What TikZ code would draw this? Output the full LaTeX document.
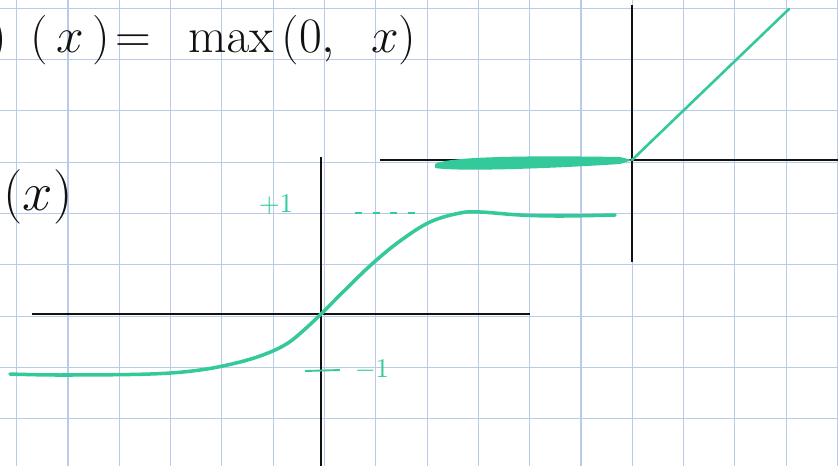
\documentclass[tikz,border=0pt]{standalone}
\usepackage{amsmath,amssymb}
\usepackage{tikz}
\usetikzlibrary{arrows.meta,positioning,calc}
\usepackage{xcolor}
\definecolor{gridblue}{HTML}{BACBEA}
\definecolor{penblack}{HTML}{111111}
\definecolor{pengreen}{HTML}{33C99A}

\begin{document}
\begin{tikzpicture}[x=0.03cm, y=-0.03cm,
    axis/.style={penblack, line width=2pt},
    curve/.style={pengreen, line width=3pt, line cap=round, line join=round},
    hand/.style={font=\Huge, scale=1.7, transform shape, text=penblack, inner sep=0pt},
    note/.style={font=\normalsize, scale=2.3, transform shape, text=pengreen, inner sep=0pt}]
  \useasboundingbox (0,0) rectangle (838,466);
  \clip (0,0) rectangle (838,466);
  \fill[white] (0,0) rectangle (838,466);

  % grid paper
  \foreach \i in {0,...,16}
    \draw[gridblue, line width=0.9pt] ({16.7+51.3*\i},0) -- ({16.7+51.3*\i},466);
  \foreach \j in {0,...,9}
    \draw[gridblue, line width=0.9pt] (0,{8.3+51.3*\j}) -- (838,{8.3+51.3*\j});

  % formula
  \node[hand, anchor=east] (cut) at (7,40) {$)$};
  \node[hand, anchor=west] (lhs) at (30,40) {$(\,x\,)\!=$};
  \node[hand, anchor=west] (rhs) at (188,40) {$\max\,(0,\;\;x)$};
  \node[hand, scale=1.1] (tanhx) at (38,197) {$(x)$};

  % ReLU axes
  \coordinate (rt) at (632,5);
  \coordinate (rb) at (632,262);
  \coordinate (rl) at (380,160);
  \coordinate (rr) at (838,160);
  \draw[axis] (rt) -- (rb);
  \draw[axis] (rl) -- (rr);

  % ReLU
  \fill[pengreen] (435,164) .. controls (450,155) and (560,156) .. (620,157)
    -- (632,160) -- (620,164) .. controls (560,168) and (460,172) .. (435,168) -- cycle;
  \draw[curve, line width=2.2pt] (632,160) -- (789,9);

  % tanh axes
  \coordinate (lt) at (321,157);
  \coordinate (lb) at (321,466);
  \coordinate (ll) at (32,314);
  \coordinate (lr) at (530,314);
  \draw[axis] (lt) -- (lb);
  \draw[axis] (ll) -- (lr);

  % tanh
  \draw[curve] plot[smooth, tension=0.6] coordinates {
    (10,374) (60,375) (150,374) (200,370) (240,362) (268,353) (288,343)
    (304,330) (321,314) (345,290) (372,264) (400,241) (430,222) (460,213)
    (480,212) (520,215) (560,216) (615,215)};

  % bounds
  \node[note] (plus) at (276,205) {$+1$};
  \draw[pengreen, line width=1.6pt, dash pattern=on 6pt off 9pt] (355,213) -- (422,213);
  \node[note] (minus) at (372,370) {$-1$};
  \draw[pengreen, line width=1.6pt] (305,371) -- (340,370);
\end{tikzpicture}
\end{document}
